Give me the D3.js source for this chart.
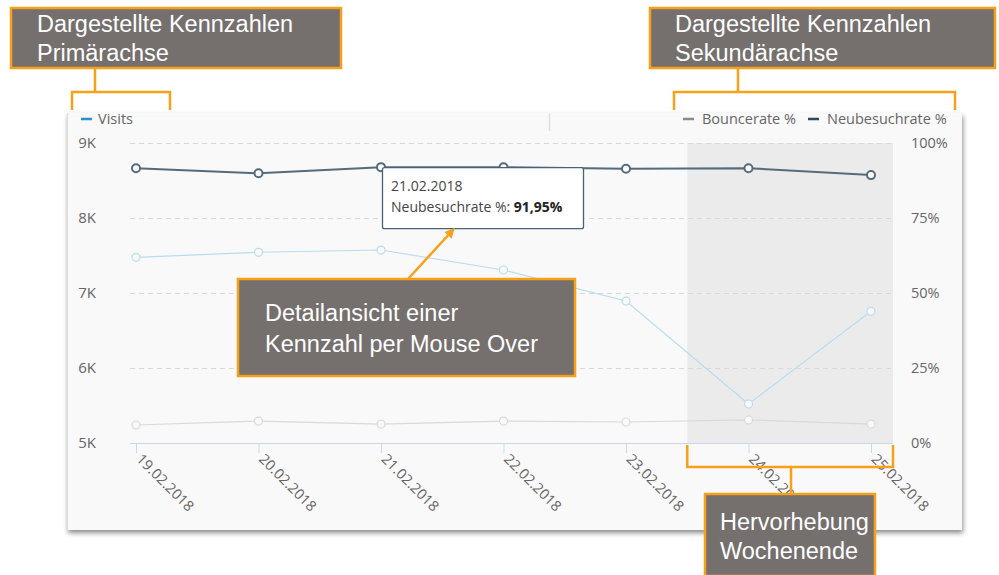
<!DOCTYPE html>
<html>
<head>
<meta charset="utf-8">
<script src="https://cdn.jsdelivr.net/npm/d3@7"></script>
<style>
  html, body { margin: 0; padding: 0; background: #ffffff; }
  svg { display: block; }
</style>
</head>
<body>
<script>
// Daily values for one week
const dates = ["19.02.2018", "20.02.2018", "21.02.2018", "22.02.2018", "23.02.2018", "24.02.2018", "25.02.2018"];
const visits = [7476, 7543, 7573, 7307, 6893, 5520, 6756];
const bounceRate = [6.0, 7.3, 6.3, 7.3, 7.0, 7.7, 6.3];
const newVisitRate = [91.6, 89.9, 91.95, 91.9, 91.4, 91.6, 89.3];
const weekendDates = ["24.02.2018", "25.02.2018"];
const leftTicks = [5000, 6000, 7000, 8000, 9000];
const rightTicks = [0, 25, 50, 75, 100];

const W = 999, H = 575;
const svg = d3.select("body").append("svg").attr("width", W).attr("height", H);
const defs = svg.append("defs");

const shadow = defs.append("filter").attr("id", "panelShadow")
  .attr("x", "-5%").attr("y", "-5%").attr("width", "110%").attr("height", "115%");
shadow.append("feDropShadow").attr("dx", 1).attr("dy", 3).attr("stdDeviation", 2.5)
  .attr("flood-color", "#000").attr("flood-opacity", 0.45);

defs.append("marker").attr("id", "arrowHead")
  .attr("viewBox", "0 0 10 10").attr("refX", 6).attr("refY", 5)
  .attr("markerWidth", 4).attr("markerHeight", 4).attr("orient", "auto")
  .append("path").attr("d", "M0,0 L10,5 L0,10 z").attr("fill", "#f7a11a");

// chart panel
svg.append("rect").attr("x", 67).attr("y", 113).attr("width", 895).attr("height", 417)
  .attr("fill", "#f9f9f9").attr("filter", "url(#panelShadow)");
svg.append("line").attr("x1", 67.5).attr("x2", 67.5).attr("y1", 113).attr("y2", 530)
  .attr("stroke", "#dcdcdc");

const plotL = 130, plotR = 893, plotT = 143, plotB = 443;
const x = d3.scalePoint().domain(dates).range([136, 871]);
const yL = d3.scaleLinear().domain([5000, 9000]).range([plotB, plotT]);
const yR = d3.scaleLinear().domain([0, 100]).range([plotB, plotT]);

const font = "'Open Sans', 'Noto Sans', sans-serif";

// weekend highlight
const step = x.step();
const wkStart = x(weekendDates[0]) - step / 2;
svg.append("rect").attr("x", wkStart).attr("y", plotT)
  .attr("width", plotR - wkStart).attr("height", plotB - plotT)
  .attr("fill", "#ebebeb");

// gridlines
svg.append("g").selectAll("line").data(leftTicks.slice(1)).join("line")
  .attr("x1", plotL).attr("x2", plotR)
  .attr("y1", d => yL(d) + 0.5).attr("y2", d => yL(d) + 0.5)
  .attr("stroke", "#d8d8d8").attr("stroke-dasharray", "5,4");

// left axis
const leftAxis = svg.append("g").attr("transform", "translate(96,0)")
  .call(d3.axisLeft(yL).tickValues(leftTicks).tickSize(0).tickPadding(0)
    .tickFormat(d => (d / 1000) + "K"));
leftAxis.select(".domain").remove();
leftAxis.selectAll("text").attr("font-family", font).attr("font-size", 15)
  .attr("fill", "#666").attr("text-anchor", "end");

// right axis
const rightAxis = svg.append("g").attr("transform", "translate(911,0)")
  .call(d3.axisRight(yR).tickValues(rightTicks).tickSize(0).tickPadding(0)
    .tickFormat(d => d + "%"));
rightAxis.select(".domain").remove();
rightAxis.selectAll("text").attr("font-family", font).attr("font-size", 14.5).attr("fill", "#666");

// bottom axis
svg.append("line").attr("x1", plotL).attr("x2", plotR)
  .attr("y1", plotB + 0.5).attr("y2", plotB + 0.5).attr("stroke", "#ccd6eb");
const bottomAxis = svg.append("g").attr("transform", `translate(0,${plotB})`)
  .call(d3.axisBottom(x).tickSize(10).tickPadding(0));
bottomAxis.select(".domain").remove();
bottomAxis.selectAll("line").attr("stroke", "#ccd6eb");
bottomAxis.selectAll("text")
  .attr("font-family", font).attr("font-size", 14.5).attr("fill", "#666")
  .attr("text-anchor", "start").attr("dy", 0).attr("y", 0)
  .attr("transform", "translate(-1,17) rotate(45)");

// series
function drawSeries(values, scale, color, width, fill) {
  const line = d3.line().x((d, i) => x(dates[i])).y(d => scale(d));
  svg.append("path").datum(values).attr("d", line)
    .attr("fill", "none").attr("stroke", color).attr("stroke-width", width);
  svg.append("g").selectAll("circle").data(values).join("circle")
    .attr("cx", (d, i) => x(dates[i])).attr("cy", d => scale(d)).attr("r", 4)
    .attr("fill", fill).attr("stroke", color).attr("stroke-width", width);
}
drawSeries(bounceRate, yR, "#d9d9d9", 1.2, "#f9f9f9");
drawSeries(visits, yL, "#b9dcee", 1.2, "#f9f9f9");
drawSeries(newVisitRate, yR, "#536b7c", 2, "#ffffff");

// legend
svg.append("line").attr("x1", 81).attr("x2", 92).attr("y1", 119).attr("y2", 119)
  .attr("stroke", "#2b8fd3").attr("stroke-width", 2.5);
svg.append("text").attr("x", 98).attr("y", 124).text("Visits")
  .attr("font-family", font).attr("font-size", 14.5).attr("fill", "#666");
svg.append("line").attr("x1", 549.5).attr("x2", 549.5).attr("y1", 113).attr("y2", 131)
  .attr("stroke", "#e0e0e0").attr("stroke-width", 1.5);
const rightLegend = [
  { label: "Bouncerate %", color: "#8a8a8a", x: 683 },
  { label: "Neubesuchrate %", color: "#2f4a5e", x: 808 }
];
rightLegend.forEach(l => {
  svg.append("line").attr("x1", l.x).attr("x2", l.x + 11).attr("y1", 119).attr("y2", 119)
    .attr("stroke", l.color).attr("stroke-width", 2.5);
  svg.append("text").attr("x", l.x + 19).attr("y", 124).text(l.label)
    .attr("font-family", font).attr("font-size", 14.5).attr("fill", "#666");
});

// hover tooltip for 21.02.2018
const tipIdx = 2;
const tip = svg.append("g").attr("transform", `translate(${x(dates[tipIdx]) + 1},${yR(newVisitRate[tipIdx])})`);
tip.append("rect").attr("x", 0.5).attr("y", 0.5).attr("width", 201).attr("height", 61).attr("rx", 2)
  .attr("fill", "#ffffff").attr("stroke", "#4a6273").attr("stroke-width", 1.3);
tip.append("text").attr("x", 9).attr("y", 24).text(dates[tipIdx])
  .attr("font-family", font).attr("font-size", 14).attr("fill", "#444");
const t2 = tip.append("text").attr("x", 9).attr("y", 45)
  .attr("font-family", font).attr("font-size", 14).attr("fill", "#444");
t2.append("tspan").text("Neubesuchrate %: ");
t2.append("tspan").attr("font-weight", "bold").attr("fill", "#222")
  .text(d3.format(".2f")(newVisitRate[tipIdx]).replace(".", ",") + "%");

// callout boxes
const orange = "#f7a11a";
const boxFill = "#756f6e";
const calloutFont = "'Liberation Sans', Arial, sans-serif";
function callout(bx, by, bw, bh, lines, tx, ty, lh) {
  svg.append("rect").attr("x", bx).attr("y", by).attr("width", bw).attr("height", bh)
    .attr("fill", boxFill).attr("stroke", orange).attr("stroke-width", 2.5);
  const t = svg.append("text").attr("font-family", calloutFont).attr("font-size", 23.5)
    .attr("fill", "#ffffff");
  lines.forEach((s, i) => t.append("tspan").attr("x", tx).attr("y", ty + i * lh).text(s));
}
function path(d, w) {
  svg.append("path").attr("d", d).attr("fill", "none").attr("stroke", orange)
    .attr("stroke-width", w || 2.5);
}

// primary axis bracket
path("M95,68 V92 M72,110 V92 H170 V110");
callout(11, 8, 330, 60, ["Dargestellte Kennzahlen", "Primärachse"], 37, 32, 29);

// secondary axis bracket
path("M738,68 V92 M674,110 V92 H955 V110");
callout(650, 8, 345, 60, ["Dargestellte Kennzahlen", "Sekundärachse"], 675, 32, 29);

// mouse-over arrow
svg.append("line").attr("x1", 408).attr("y1", 279).attr("x2", 452).attr("y2", 231)
  .attr("stroke", orange).attr("stroke-width", 2.5).attr("marker-end", "url(#arrowHead)");
callout(238, 279, 337, 97, ["Detailansicht einer", "Kennzahl per Mouse Over"], 265, 321, 31);

// weekend bracket
path(`M${wkStart},445 V467 H${plotR} V445 M791,467 V494`);
callout(705, 494, 170, 82, ["Hervorhebung", "Wochenende"], 720, 530, 29);
</script>
</body>
</html>
